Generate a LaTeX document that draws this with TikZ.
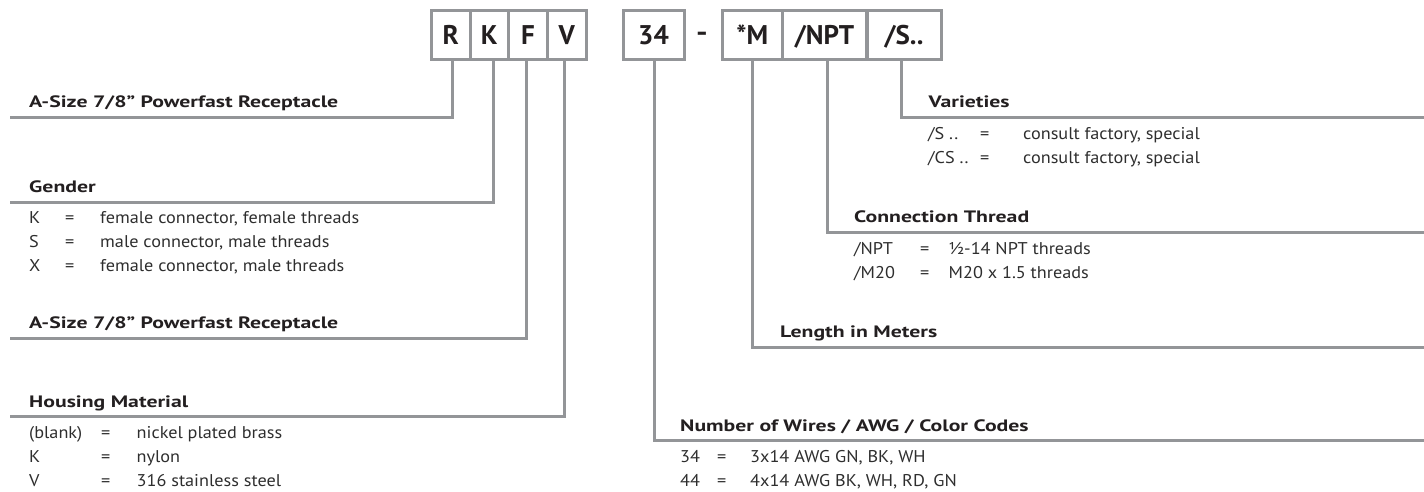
\documentclass[tikz,border=0pt]{standalone}
\usepackage{fontspec}
\setmainfont{PT Sans}
\definecolor{ln}{HTML}{939598}
\definecolor{tx}{HTML}{231F20}
\definecolor{bd}{HTML}{2E2E2E}
\newlength\refb
\newlength\refh
\newcommand\BD[1]{\scalebox{\bsx}[1]{#1}}
\newcommand\HD[1]{\scalebox{\hsx}[1]{#1}}
\begin{document}
\settowidth\refb{\fontsize{17}{17}\selectfont female connector, female threads}
\settowidth\refh{\fontsize{16.5}{16.5}\selectfont\bfseries A-Size 7/8” Powerfast Receptacle}
\pgfmathsetmacro\bsx{259/\refb}
\pgfmathsetmacro\hsx{309/\refh}
\begin{tikzpicture}[x=1pt,y=-1pt,
  conn/.style={draw=ln, line width=3pt, line join=miter},
  bx/.style={draw=ln, line width=3pt, minimum height=49.3pt, inner sep=0pt, text height=19pt, text depth=0pt, font=\fontsize{27}{27}\selectfont\bfseries, text=tx},
  hd/.style={anchor=base west, inner sep=0pt, font=\fontsize{16.5}{16.5}\selectfont\bfseries, text=tx},
  rw/.style={anchor=base west, inner sep=0pt, font=\fontsize{17}{17}\selectfont, text=bd}]
\useasboundingbox (0,0) rectangle (1424,492);
% code boxes
\node[bx, minimum width=38.7pt] (bR) at (450.65,35.35) {R};
\node[bx, minimum width=38.7pt] (bK) at (489.35,35.35) {K};
\node[bx, minimum width=38.6pt] (bF) at (528.0,35.35) {F};
\node[bx, minimum width=38.7pt] (bV) at (566.65,35.35) {V};
\node[bx, minimum width=61pt] (b34) at (653.5,35.35) {34};
\node[anchor=base, inner sep=0pt, font=\fontsize{27}{27}\selectfont\bfseries, text=tx] (dash) at (702,42) {\scalebox{1.2}[1]{-}};
\node[bx, minimum width=60pt] (bM) at (752.3,35.35) {*M};
\node[bx, minimum width=84.7pt] (bN) at (824.6,35.35) {/NPT};
\node[bx, minimum width=74pt] (bS) at (904,35.35) {/S..};
% corner coordinates
\coordinate (cR) at (452,117.5);   \coordinate (eR) at (10,117.5);
\coordinate (cK) at (493,202);   \coordinate (eK) at (10,202);
\coordinate (cF) at (526,338.5); \coordinate (eF) at (10,338.5);
\coordinate (cV) at (564,416.5); \coordinate (eV) at (10,416.5);
\coordinate (cS) at (901.5,117.5); \coordinate (eS) at (1424,117.5);
\coordinate (cN) at (827.5,232.5); \coordinate (eN) at (1424,232.5);
\coordinate (cM) at (752.5,347.5); \coordinate (eM) at (1424,347.5);
\coordinate (c34) at (654,440.5); \coordinate (e34) at (1424,440.5);
% connectors
\draw[conn] (bR.south -| cR) -- (cR) -- (eR);
\draw[conn] (bK.south -| cK) -- (cK) -- (eK);
\draw[conn] (bF.south -| cF) -- (cF) -- (eF);
\draw[conn] (bV.south -| cV) -- (cV) -- (eV);
\draw[conn] (bS.south -| cS) -- (cS) -- (eS);
\draw[conn] (bN.south -| cN) -- (cN) -- (eN);
\draw[conn] (bM.south -| cM) -- (cM) -- (eM);
\draw[conn] (b34.south -| c34) -- (c34) -- (e34);
% left headings
\node[hd] (h1) at (29,107.5) {\HD{A-Size 7/8” Powerfast Receptacle}};
\node[hd] (h2) at (29,192.5) {\HD{Gender}};
\node[hd] (h3) at (29,328) {\HD{A-Size 7/8” Powerfast Receptacle}};
\node[hd] (h4) at (29,407) {\HD{Housing Material}};
% gender rows
\node[rw] (g1a) at (29,223) {\BD{K}};  \node[rw] (g1b) at (65,223) {\BD{=}}; \node[rw] (g1c) at (100,223) {\BD{female connector, female threads}};
\node[rw] (g2a) at (29,247) {\BD{S}};  \node[rw] (g2b) at (65,247) {\BD{=}}; \node[rw] (g2c) at (100,247) {\BD{male connector, male threads}};
\node[rw] (g3a) at (29,271) {\BD{X}};  \node[rw] (g3b) at (65,271) {\BD{=}}; \node[rw] (g3c) at (100,271) {\BD{female connector, male threads}};
% housing rows
\node[rw] (m1a) at (29,438) {\BD{(blank)}}; \node[rw] (m1b) at (101,438) {\BD{=}}; \node[rw] (m1c) at (136.5,438) {\BD{nickel plated brass}};
\node[rw] (m2a) at (29,462) {\BD{K}};       \node[rw] (m2b) at (101,462) {\BD{=}}; \node[rw] (m2c) at (136.5,462) {\BD{nylon}};
\node[rw] (m3a) at (29,486) {\BD{V}};       \node[rw] (m3b) at (101,486) {\BD{=}}; \node[rw] (m3c) at (136.5,486) {\BD{316 stainless steel}};
% right headings
\node[hd] (h5) at (928.5,108) {\HD{Varieties}};
\node[hd] (h6) at (854,222.5) {\HD{Connection Thread}};
\node[hd] (h7) at (780,337.5) {\HD{Length in Meters}};
\node[hd] (h8) at (680,431) {\HD{Number of Wires / AWG / Color Codes}};
% varieties rows
\node[rw] (v1a) at (928,139.5) {\BD{/S ..}};  \node[rw] (v1b) at (980,139.5) {\BD{=}}; \node[rw] (v1c) at (1023,139.5) {\BD{consult factory, special}};
\node[rw] (v2a) at (928,164) {\BD{/CS ..}}; \node[rw] (v2b) at (980,164) {\BD{=}}; \node[rw] (v2c) at (1023,164) {\BD{consult factory, special}};
% thread rows
\node[rw] (t1a) at (854,254) {\BD{/NPT}}; \node[rw] (t1b) at (920,254) {\BD{=}}; \node[rw] (t1c) at (948.5,254) {\BD{½-14 NPT threads}};
\node[rw] (t2a) at (854,278) {\BD{/M20}}; \node[rw] (t2b) at (920,278) {\BD{=}}; \node[rw] (t2c) at (948.5,278) {\BD{M20 x 1.5 threads}};
% wires rows
\node[rw] (w1a) at (680,462) {\BD{34}}; \node[rw] (w1b) at (717,462) {\BD{=}}; \node[rw] (w1c) at (750,462) {\BD{3x14 AWG GN, BK, WH}};
\node[rw] (w2a) at (680,486) {\BD{44}}; \node[rw] (w2b) at (717,486) {\BD{=}}; \node[rw] (w2c) at (750,486) {\BD{4x14 AWG BK, WH, RD, GN}};
\end{tikzpicture}
\end{document}
